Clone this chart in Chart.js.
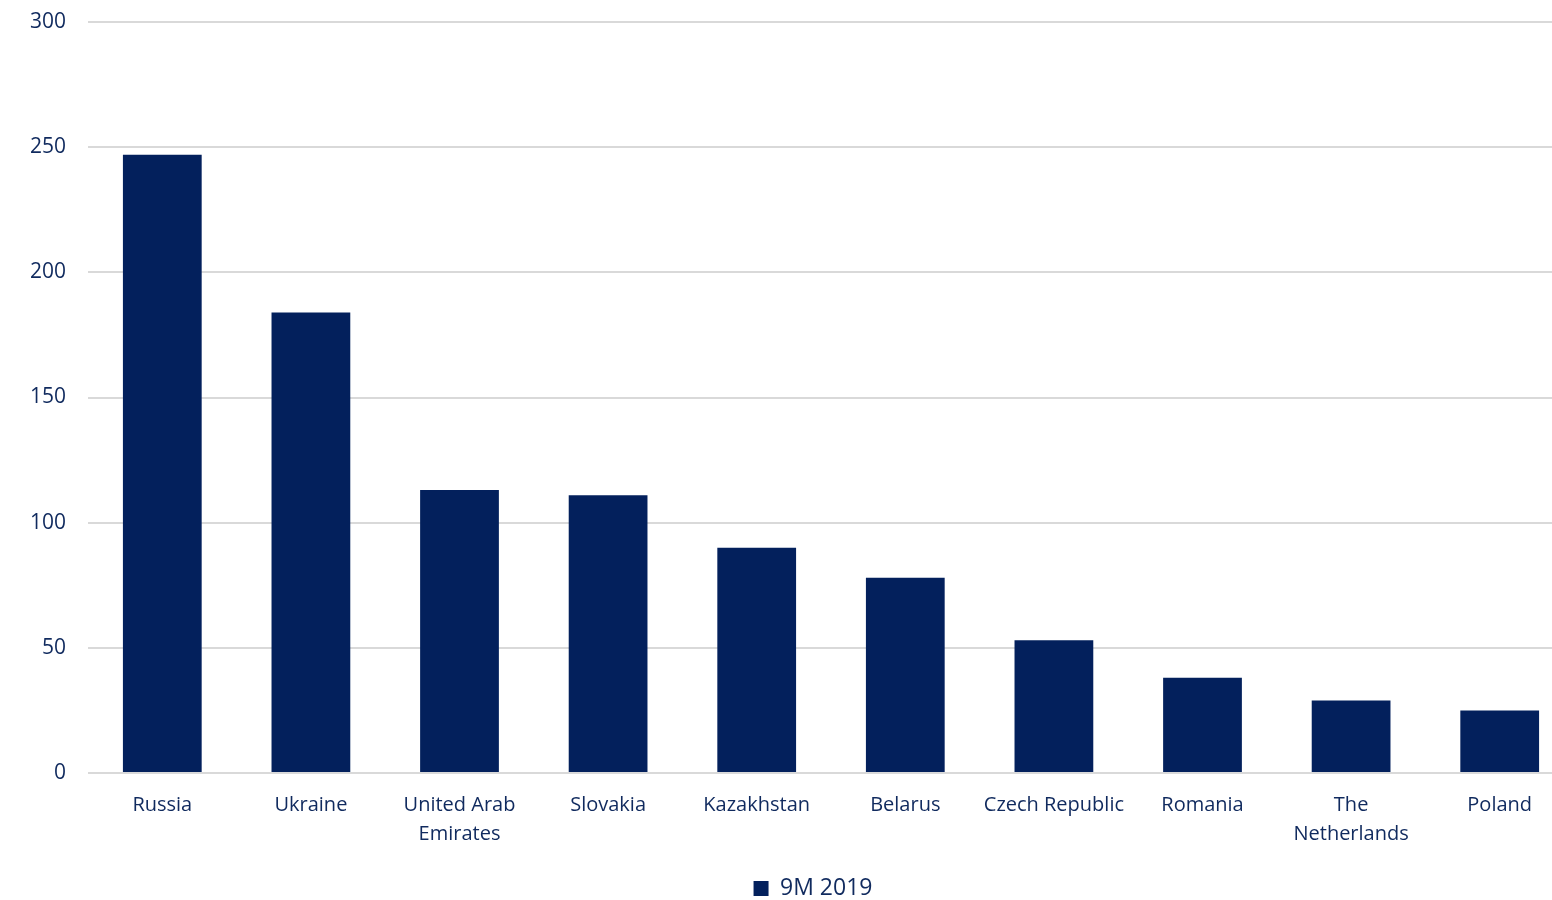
<!DOCTYPE html>
<html>
<head>
<meta charset="utf-8">
<script src="https://cdn.jsdelivr.net/npm/chart.js@4.4.1/dist/chart.umd.min.js"></script>
<style>
  html, body { margin: 0; padding: 0; background: #fff; overflow: hidden; }
  #clip { width: 1552px; height: 900px; overflow: hidden; position: relative; }
  #wrap { width: 1626px; height: 900px; position: relative; }
</style>
</head>
<body>
<div id="clip"><div id="wrap"><canvas id="chart"></canvas></div></div>
<script>
const countries = ['Russia', 'Ukraine', ['United Arab', 'Emirates'], 'Slovakia', 'Kazakhstan',
    'Belarus', 'Czech Republic', 'Romania', ['The', 'Netherlands'], 'Poland'];
const values9M2019 = [247, 184, 113, 111, 90, 78, 53, 38, 29, 25];
const yTicks = [0, 50, 100, 150, 200, 250, 300];

const textColor = '#102a5e';
const barColor = '#03205c';

Chart.defaults.font.family = "'Open Sans', 'Noto Sans', sans-serif";
Chart.defaults.color = textColor;

new Chart(document.getElementById('chart'), {
    type: 'bar',
    data: {
        labels: countries,
        datasets: [{
            label: '9M 2019',
            data: values9M2019,
            backgroundColor: barColor,
            categoryPercentage: 1,
            barPercentage: 0.53
        }]
    },
    options: {
        responsive: true,
        maintainAspectRatio: false,
        animation: false,
        layout: { padding: { top: 22, right: 0, left: 0, bottom: -10 } },
        plugins: {
            tooltip: { enabled: false },
            legend: {
                position: 'bottom',
                labels: {
                    boxWidth: 15,
                    boxHeight: 15,
                    font: { size: 23 },
                    padding: 2
                }
            }
        },
        scales: {
            x: {
                grid: { display: false },
                border: { display: false },
                ticks: { font: { size: 20, lineHeight: 1.45 }, padding: 10, maxRotation: 0, autoSkip: false },
                afterFit: scale => { scale.height = 102; }
            },
            y: {
                min: 0,
                max: 300,
                afterBuildTicks: scale => { scale.ticks = yTicks.map(v => ({ value: v })); },
                grid: { color: '#d9d9d9', lineWidth: 2, drawTicks: false },
                border: { display: false },
                ticks: { font: { size: 21 }, padding: 22 },
                afterFit: scale => {
                    scale.width = 88;
                    scale.paddingTop = 0;
                    scale.paddingBottom = 0;
                }
            },
            // empty right-hand spacer so the plot runs past the crop edge
            yRight: {
                position: 'right',
                grid: { display: false },
                border: { display: false },
                ticks: { display: false },
                afterFit: scale => { scale.width = 52; }
            }
        }
    }
});
</script>
</body>
</html>
